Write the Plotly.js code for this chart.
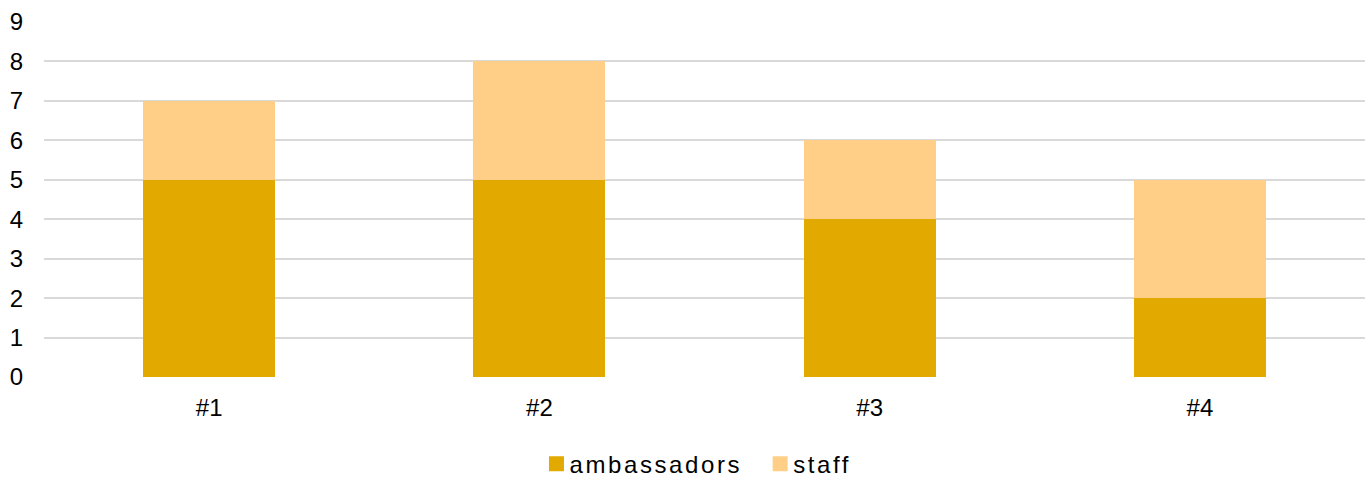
<!DOCTYPE html>
<html>
<head>
<meta charset="utf-8">
<script src="https://cdn.plot.ly/plotly-3.0.1.min.js"></script>
<style>
html,body{margin:0;padding:0;background:#fff;}
#chart{width:1367px;height:477px;}
text.legendtext{letter-spacing:2.6px;}
</style>
</head>
<body>
<div id="chart"></div>
<script>
const categories = ["#1", "#2", "#3", "#4"];
const ambassadors = [5, 5, 4, 2];
const staff = [2, 3, 2, 3];
const yTicks = [0, 1, 2, 3, 4, 5, 6, 7, 8, 9];

const font = {family: "Liberation Sans, Arial, sans-serif", size: 24, color: "#000"};
const legendFont = {family: "Liberation Sans, Arial, sans-serif", size: 24, color: "#000"};

const data = [
  {type: "bar", name: "ambassadors", x: categories, y: ambassadors, marker: {color: "#E2AA00"}, hoverinfo: "skip"},
  {type: "bar", name: "staff", x: categories, y: staff, marker: {color: "#FFCF87"}, hoverinfo: "skip"}
];

const layout = {
  width: 1367, height: 477,
  margin: {l: 44, r: 2, t: 22, b: 100},
  barmode: "stack",
  bargap: 0.6,
  font: font,
  paper_bgcolor: "#fff",
  plot_bgcolor: "#fff",
  showlegend: true,
  legend: {orientation: "h", x: 0.489, xanchor: "center", xref: "paper", yref: "container", y: 0.027, yanchor: "middle", font: legendFont, traceorder: "normal", itemwidth: 30},
  xaxis: {type: "category", showgrid: false, zeroline: false, showline: false, ticks: "", ticklabelstandoff: 14, tickfont: font, automargin: false},
  yaxis: {range: [0, 9], tickvals: yTicks, ticktext: yTicks.map(String), showgrid: true, gridcolor: "#D9D9D9", gridwidth: 2, zeroline: false, showline: false, ticks: "", ticklabelstandoff: 20, tickfont: font, automargin: false}
};

Plotly.newPlot("chart", data, layout, {staticPlot: true}).then(function (gd) {
  gd.querySelectorAll(".legend .legendpoints path").forEach(function (p) {
    const t = p.getAttribute("transform") || "";
    p.setAttribute("transform", "translate(7,0) " + t + " scale(1.25)");
  });
  const items = gd.querySelectorAll(".legend g.traces");
  if (items.length > 1) {
    const t = items[1].getAttribute("transform") || "";
    items[1].setAttribute("transform", "translate(6,0) " + t);
  }
});
</script>
</body>
</html>
